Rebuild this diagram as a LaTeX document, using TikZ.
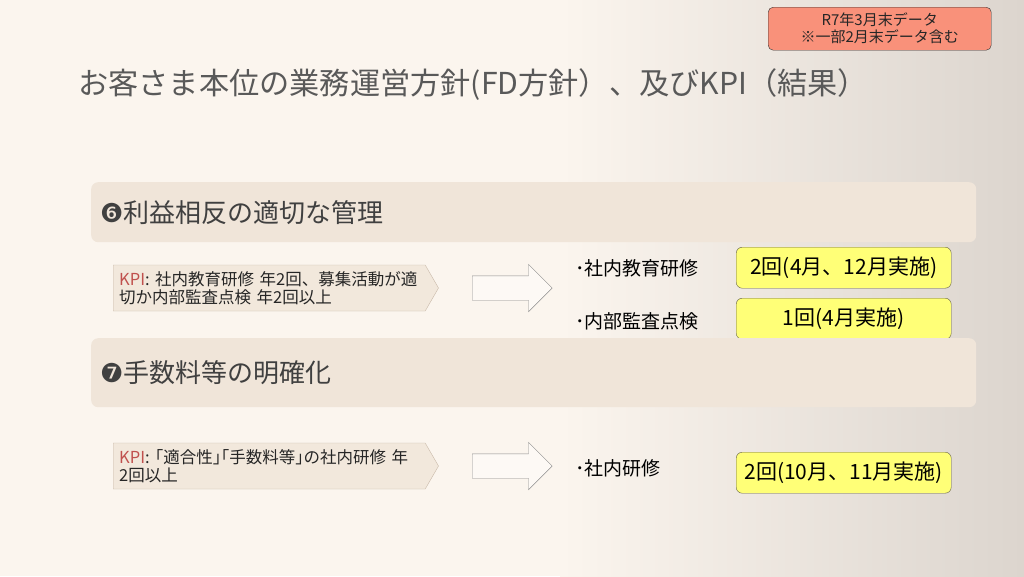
\documentclass[tikz,border=0pt]{standalone}
\usepackage{fontspec}
\setmainfont{Noto Sans CJK JP}
\newfontfamily\simbolo{DejaVu Sans}
\usetikzlibrary{shapes.arrows,shapes.symbols,positioning}

\definecolor{fundo}{HTML}{FBF5EE}
\definecolor{sombra}{HTML}{DCD5CE}
\definecolor{faixacor}{HTML}{F0E5D9}
\definecolor{kpicor}{HTML}{F2E8DC}
\definecolor{kpiborda}{HTML}{C9B9A9}
\definecolor{kpivermelho}{HTML}{C0504D}
\definecolor{amarelo}{HTML}{FFFF77}
\definecolor{salmao}{HTML}{F9917A}
\definecolor{titulocor}{HTML}{595959}

\begin{document}
\begin{tikzpicture}[
        x=1pt, y=-1pt,
        every node/.style = {inner sep=0pt, text=black!85},
        faixa/.style = {
            shape=rectangle,
            rounded corners=7pt,
            fill=faixacor,
            minimum width=885pt,
            minimum height=60pt,
            anchor=north west
        },
        faixatexto/.style = {font=\fontsize{26}{30}\selectfont, text=black!75, anchor=west},
        kpi/.style = {
            shape=signal,
            signal to=east,
            signal pointer angle=120,
            draw=kpiborda,
            fill=kpicor,
            align=left,
            text width=300pt,
            inner xsep=6pt,
            minimum height=46pt,
            font=\fontsize{16.5}{18.5}\selectfont,
            anchor=west
        },
        seta/.style = {
            shape=single arrow,
            draw=black!45,
            fill=fundo!60!white,
            inner ysep=12pt,
            minimum height=80pt,
            minimum width=47pt,
            single arrow head extend=11.5pt,
            anchor=west
        },
        item/.style = {font=\fontsize{19}{22}\selectfont, text=black, anchor=west},
        resultado/.style = {
            shape=rectangle,
            rounded corners=6pt,
            draw=black!70!yellow,
            fill=amarelo,
            minimum width=215pt,
            minimum height=41pt,
            font=\fontsize{21}{24}\selectfont,
            text=black,
            anchor=north west
        }
    ]

    % FUNDO
    \useasboundingbox (0,0) rectangle (1024,576);
    \fill[fundo] (0,0) rectangle (1024,576);
    \shade[left color=fundo, right color=sombra] (560,0) rectangle (1024,576);

    % DATA
    \node[draw=black!80, fill=salmao, rounded corners=5pt, align=center,
          minimum width=223pt, minimum height=43pt, anchor=north west,
          font=\fontsize{15}{17}\selectfont] (data) at (768,7)
          {R7年3月末データ\\※一部2月末データ含む};

    % TITULO
    \node[anchor=west, text=titulocor, font=\fontsize{30.2}{33}\selectfont] (titulo) at (78,85)
        {お客さま本位の業務運営方針(FD方針）、及びKPI（結果）};

    % BLOCO 6
    \node[faixa] (faixa6) at (91,182) {};
    \node[faixatexto, right=9pt of faixa6.west] (tema6) {{\simbolo ❻}利益相反の適切な管理};
    \node[kpi] (kpi6) at (113,288)
        {\textcolor{kpivermelho}{KPI}: 社内教育研修 年2回、募集活動が適\\切か内部監査点検 年2回以上};
    \node[seta] (seta6) at (472,288) {};
    \node[item] (item6a) at (575,268) {･社内教育研修};
    \node[item] (item6b) at (575,321) {･内部監査点検};
    \node[resultado] (res6a) at (736,247) {2回(4月、12月実施)};
    \node[resultado] (res6b) at (736,298) {1回(4月実施)};

    % BLOCO 7
    \node[faixa, minimum height=69pt] (faixa7) at (91,338) {};
    \node[faixatexto, right=9pt of faixa7.west] (tema7) {{\simbolo ❼}手数料等の明確化};
    \node[kpi] (kpi7) at (113,466)
        {\textcolor{kpivermelho}{KPI}: ｢適合性｣｢手数料等｣の社内研修 年\\2回以上};
    \node[seta] (seta7) at (472,466) {};
    \node[item] (item7) at (575,468) {･社内研修};
    \node[resultado] (res7) at (736,452) {2回(10月、11月実施)};
\end{tikzpicture}
\end{document}
